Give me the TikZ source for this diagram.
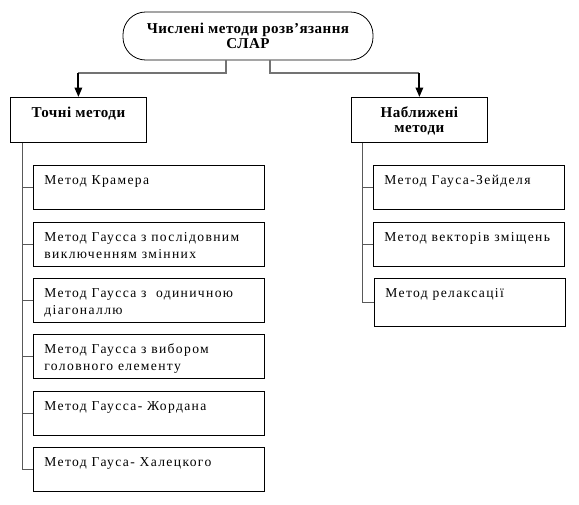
\documentclass[tikz,border=0pt]{standalone}
\usepackage{fontspec}
\setmainfont[LetterSpace=10]{Liberation Serif}
\newfontfamily\hdfont[LetterSpace=3]{Liberation Serif}
\usetikzlibrary{arrows.meta}
\newcommand{\bt}[2][33pt]{\parbox[c][#1][t]{\bw}{\raggedright\leftskip=8.25pt\baselineskip=12.75pt\rule{0pt}{14.25pt}#2}}
\newcommand{\bw}{173.25pt}
\newcommand{\hdtext}[1]{\parbox[c][33.75pt][t]{102pt}{\centering\baselineskip=11.6pt\rule{0pt}{15pt}\bfseries #1}}
\begin{document}
\begin{tikzpicture}[x=0.75pt,y=-0.75pt,
  sub/.style={draw, line width=0.6pt, inner sep=0pt, anchor=north west, font=\fontsize{10.2}{12}\selectfont},
  head/.style={draw, line width=0.6pt, inner sep=0pt, anchor=north west, font=\hdfont\fontsize{11.3}{11.6}\selectfont},
  title/.style={draw, line width=0.6pt, rounded corners=17pt, minimum width=187.5pt, minimum height=36pt, align=center, font=\hdfont\fontsize{11.3}{11.25}\bfseries\selectfont},
  gconn/.style={draw=black!55, line width=1.4pt},
  aconn/.style={draw=black, line width=1.4pt, -{Triangle[width=5.5pt,length=7pt]}},
  tree/.style={draw=black!65, line width=0.75pt}]
\useasboundingbox (0,0) rectangle (579,504);
\node[title] (root) at (248,36) {Числені методи розв’язання\\СЛАР};
\node[head] (exact) at (10,97) {\hdtext{Точні методи}};
\node[head] (approx) at (351,97) {\hdtext{Наближені\\методи}};
\node[sub] (m1) at (33,165) {\bt{Метод Крамера}};
\node[sub] (m2) at (33,222) {\bt{Метод Гаусса з послідовним\\виключенням змінних}};
\node[sub] (m3) at (33,278) {\bt{Метод Гаусса з \ одиничною\\діагоналлю}};
\node[sub] (m4) at (33,334) {\bt{Метод Гаусса з вибором\\головного елементу}};
\node[sub] (m5) at (33,391) {\bt{Метод Гаусса- Жордана}};
\node[sub] (m6) at (33,447) {\bt{Метод Гауса- Халецкого}};
\renewcommand{\bw}{143.25pt}
\node[sub] (a1) at (373,165) {\bt{Метод Гауса-Зейделя}};
\node[sub] (a2) at (373,222) {\bt{Метод векторів зміщень}};
\node[sub] (a3) at (374,278) {\bt[36pt]{Метод релаксації}};
% top connectors
\coordinate (ej) at ([yshift=18pt]exact.north);
\coordinate (aj) at ([yshift=18pt]approx.north);
\draw[gconn] ([xshift=-16.5pt]root.south) |- (ej);
\draw[gconn] ([xshift=16.5pt]root.south) |- (aj);
\draw[aconn] (ej) -- (exact.north);
\draw[aconn] (aj) -- (approx.north);
% trees
\coordinate (L) at ([xshift=9pt]exact.south west);
\coordinate (R) at ([xshift=8.25pt]approx.south west);
\draw[tree] (L) |- (m6.west);
\foreach \n in {m1,m2,m3,m4,m5} \draw[tree] (\n.west) -- (\n.west -| L);
\draw[tree] (R) |- (a3.west);
\foreach \n in {a1,a2} \draw[tree] (\n.west) -- (\n.west -| R);
\end{tikzpicture}
\end{document}
